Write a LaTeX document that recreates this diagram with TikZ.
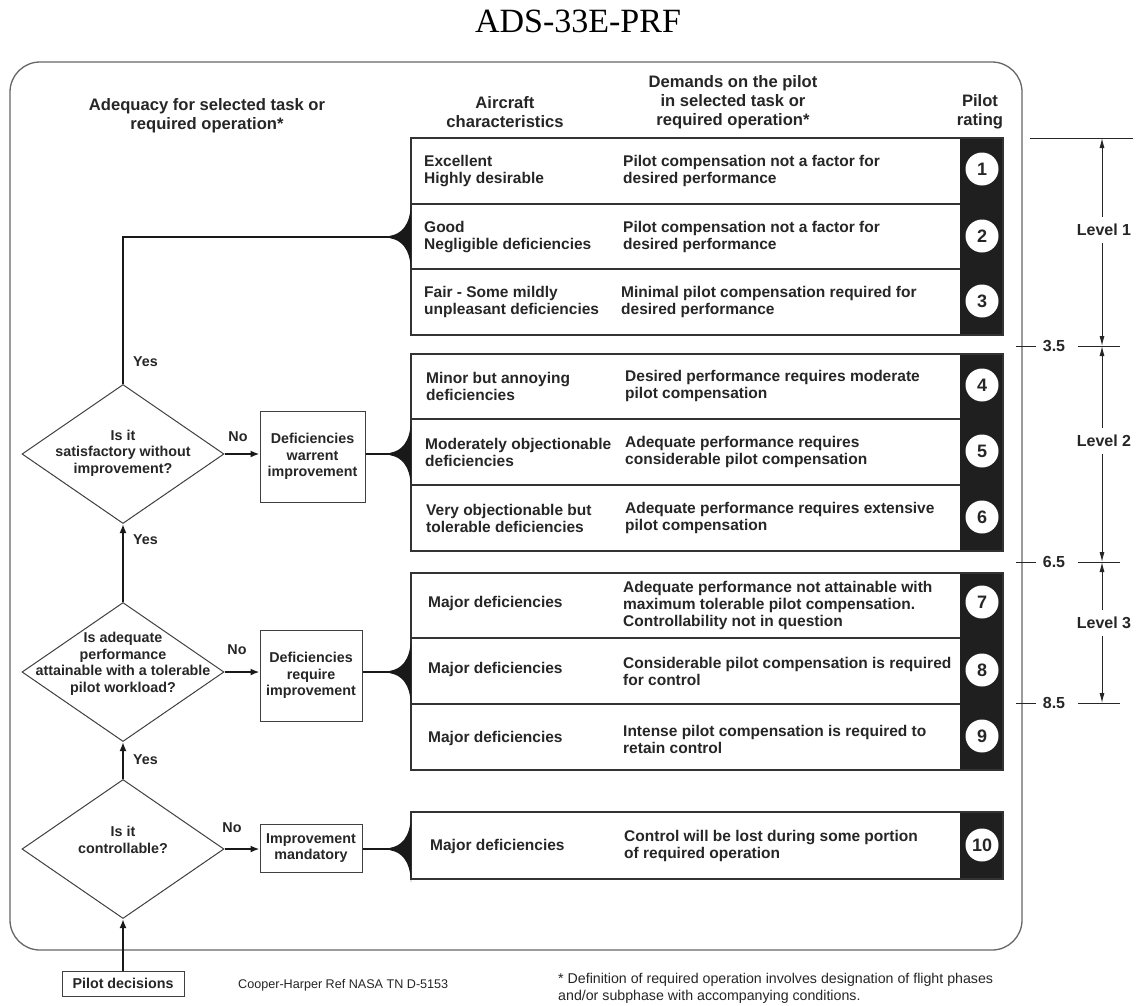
\documentclass[tikz,border=0pt]{standalone}
\usepackage{fontspec}
\setmainfont{Liberation Sans}
\newfontfamily\titlefont{Liberation Serif}
\usetikzlibrary{shapes.geometric,arrows.meta}
\begin{document}
\begin{tikzpicture}[x=1pt,y=-1pt,
  tbl/.style={font=\fontsize{15.5}{17}\selectfont\bfseries, align=left, anchor=west, inner sep=0, text=black!85},
  hdr/.style={font=\fontsize{16.6}{19}\selectfont\bfseries, align=center, inner sep=0, text=black!85},
  flow/.style={font=\fontsize{14.3}{16.5}\selectfont\bfseries, align=center, inner sep=0, text=black!85},
  lbl/.style={font=\fontsize{14.3}{16.5}\selectfont\bfseries, inner sep=0, text=black!85},
  dia/.style={shape=diamond, draw=black!75, line width=1pt, minimum width=202pt, minimum height=139pt, inner sep=0},
  fbox/.style={draw=black!75, line width=1pt, inner sep=0},
  tline/.style={draw=black!80, line width=1.2pt},
  flowline/.style={line width=2.4pt, black!90},
  flowarrow/.style={flowline, -{Latex[length=9pt,width=7pt]}},
  rnum/.style={circle, fill=white, minimum size=33pt, inner sep=0, font=\fontsize{18}{18}\selectfont\bfseries, text=black!85},
  lvl/.style={line width=0.9pt, black!85},
  lvlarrow/.style={lvl, {Latex[length=10pt,width=5pt]}-{Latex[length=10pt,width=5pt]}},
  lvltxt/.style={font=\fontsize{16}{16}\selectfont\bfseries, fill=white, inner xsep=2pt, inner ysep=7pt, text=black!85},
  foot/.style={font=\fontsize{12.6}{16}\selectfont, align=left, inner sep=0, text=black!85},
  footb/.style={font=\fontsize{14.2}{17}\selectfont, align=left, inner sep=0, text=black!85},
  pics/wedge/.style={code={\fill[black!90] (0,-1.2) .. controls (11,-3) and (20,-11) .. (21,-33) -- (21,33) .. controls (20,11) and (11,3) .. (0,1.2) -- cycle;}}
]
\useasboundingbox (0,0) rectangle (1139,1005);
\fill[white] (0,0) rectangle (1139,1005);

% title
\node[font=\titlefont\fontsize{34}{34}\selectfont, anchor=base, inner sep=0] (title) at (578,32) {ADS-33E-PRF};

% outer frame
\draw[draw=black!60, line width=1.3pt, rounded corners=30pt] (10,62) rectangle (1022,950);

% headers
\node[hdr] (h1) at (207,116) {Adequacy for selected task or\\required operation*};
\node[hdr] (h2) at (505,112) {Aircraft\\characteristics};
\node[hdr] (h3) at (733,102) {Demands on the pilot\\in selected task or\\required operation*};
\node[hdr] (h4) at (980,112) {Pilot\\rating};

% ---------- table groups ----------
% group 1
\fill[black!88] (960,138) rectangle (1003,335);
\draw[tline] (411,138) rectangle (1003,335);
\draw[tline] (411,204) -- (960,204) (411,269) -- (960,269);
% group 2
\fill[black!88] (960,354) rectangle (1003,551);
\draw[tline] (411,354) rectangle (1003,551);
\draw[tline] (411,419) -- (960,419) (411,485) -- (960,485);
% group 3
\fill[black!88] (960,573) rectangle (1003,770);
\draw[tline] (411,573) rectangle (1003,770);
\draw[tline] (411,638) -- (960,638) (411,704) -- (960,704);
% group 4
\fill[black!88] (960,812) rectangle (1003,879);
\draw[tline] (411,812) rectangle (1003,879);

% row texts
\node[tbl] (a1) at (424,171) {Excellent\\Highly desirable};
\node[tbl] (p1) at (623,171) {Pilot compensation not a factor for\\desired performance};
\node[rnum] (n1) at (982,169) {1};

\node[tbl] (a2) at (424,237) {Good\\Negligible deficiencies};
\node[tbl] (p2) at (623,237) {Pilot compensation not a factor for\\desired performance};
\node[rnum] (n2) at (982,236) {2};

\node[tbl] (a3) at (424,302) {Fair - Some mildly\\unpleasant deficiencies};
\node[tbl] (p3) at (621,302) {Minimal pilot compensation required for\\desired performance};
\node[rnum] (n3) at (982,301) {3};

\node[tbl] (a4) at (426,386) {Minor but annoying\\deficiencies};
\node[tbl] (p4) at (625,386) {Desired performance requires moderate\\pilot compensation};
\node[rnum] (n4) at (982,385) {4};

\node[tbl] (a5) at (425,452) {Moderately objectionable\\deficiencies};
\node[tbl] (p5) at (625,452) {Adequate performance requires\\considerable pilot compensation};
\node[rnum] (n5) at (982,451) {5};

\node[tbl] (a6) at (426,518) {Very objectionable but\\tolerable deficiencies};
\node[tbl] (p6) at (625,518) {Adequate performance requires extensive\\pilot compensation};
\node[rnum] (n6) at (982,517) {6};

\node[tbl] (a7) at (428,603) {Major deficiencies};
\node[tbl] (p7) at (623,605) {Adequate performance not attainable with\\maximum tolerable pilot compensation.\\Controllability not in question};
\node[rnum] (n7) at (982,602) {7};

\node[tbl] (a8) at (428,669) {Major deficiencies};
\node[tbl] (p8) at (623,671) {Considerable pilot compensation is required\\for control};
\node[rnum] (n8) at (982,670) {8};

\node[tbl] (a9) at (428,738) {Major deficiencies};
\node[tbl] (p9) at (623,739) {Intense pilot compensation is required to\\retain control};
\node[rnum] (n9) at (982,736) {9};

\node[tbl] (a10) at (430,846) {Major deficiencies};
\node[tbl] (p10) at (624,846) {Control will be lost during some portion\\of required operation};
\node[rnum] (n10) at (982,845) {10};

% ---------- flow part ----------
\node[dia] (d1) at (123,454) {};
\node[flow] (d1t) at (123,453) {Is it\\satisfactory without\\improvement?};
\node[dia] (d2) at (123,672) {};
\node[flow] (d2t) at (123,664) {Is adequate\\performance\\attainable with a tolerable\\pilot workload?};
\node[dia] (d3) at (123,849) {};
\node[flow] (d3t) at (123,840) {Is it\\controllable?};

\node[fbox, flow, minimum width=105pt, minimum height=91pt] (b1) at (312.5,456.5) {Deficiencies\\warrent\\improvement};
\node[fbox, flow, minimum width=102pt, minimum height=91pt] (b2) at (311,675.5) {Deficiencies\\require\\improvement};
\node[fbox, flow, minimum width=102pt, minimum height=48pt] (b3) at (311,848) {Improvement\\mandatory};
\node[fbox, flow, minimum width=122pt, minimum height=25pt] (pd) at (123,983.5) {Pilot decisions};

% wedge tips
\coordinate (w1) at (390,237);
\coordinate (w2) at (390,454);
\coordinate (w3) at (390,672);
\coordinate (w4) at (390,849);
\pic at (w1) {wedge};
\pic at (w2) {wedge};
\pic at (w3) {wedge};
\pic at (w4) {wedge};

% connectors
\draw[flowline] (d1.north) |- (w1);
\draw[flowarrow] (d1.east) -- (d1.east -| b1.west);
\draw[flowline] (d1 -| b1.east) -- (w2);
\draw[flowarrow] (d2.east) -- (d2.east -| b2.west);
\draw[flowline] (d2 -| b2.east) -- (w3);
\draw[flowarrow] (d3.east) -- (d3.east -| b3.west);
\draw[flowline] (d3 -| b3.east) -- (w4);
\draw[flowarrow] (d2.north) -- (d1.south);
\draw[flowarrow] (d3.north) -- (d2.south);
\draw[flowarrow] (pd.north) -- (d3.south);

% yes / no labels
\node[lbl, anchor=west] (y1) at (133,362) {Yes};
\node[lbl, anchor=west] (y2) at (133,540) {Yes};
\node[lbl, anchor=west] (y3) at (133,760) {Yes};
\node[lbl] (no1) at (238,437) {No};
\node[lbl] (no2) at (237,650) {No};
\node[lbl] (no3) at (232,828) {No};

% ---------- levels ----------
\coordinate (l0) at (1102,138);
\coordinate (l1) at (1102,346);
\coordinate (l2) at (1102,562);
\coordinate (l3) at (1102,703);
\draw[lvl] (1030,138) -- (1133,138);
\draw[lvl] (1016,346) -- (1036,346) (1078,346) -- (1120,346);
\draw[lvl] (1016,562) -- (1036,562) (1078,562) -- (1120,562);
\draw[lvl] (1016,703) -- (1036,703) (1078,703) -- (1120,703);
\draw[lvlarrow] (l0) -- (l1);
\draw[lvlarrow] (l1) -- (l2);
\draw[lvlarrow] (l2) -- (l3);
\node[lvltxt] (lv1) at (1104,230) {Level 1};
\node[lvltxt] (lv2) at (1104,441) {Level 2};
\node[lvltxt] (lv3) at (1104,623) {Level 3};
\node[lvltxt, inner ysep=0pt] (v35) at (1054,346) {3.5};
\node[lvltxt, inner ysep=0pt] (v65) at (1054,562) {6.5};
\node[lvltxt, inner ysep=0pt] (v85) at (1054,703) {8.5};

% footer
\node[foot, anchor=west] (ref) at (238,985) {Cooper-Harper Ref NASA TN D-5153};
\node[footb, anchor=west] (fn) at (558,988) {* Definition of required operation involves designation of flight phases\\and/or subphase with accompanying conditions.};
\end{tikzpicture}
\end{document}
